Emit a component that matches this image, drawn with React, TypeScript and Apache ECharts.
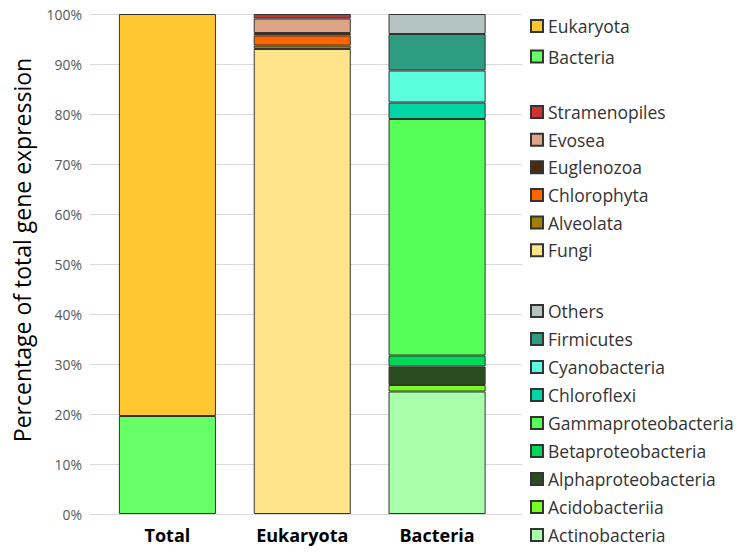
import React, { useEffect, useRef } from "react";
import * as echarts from "echarts";

const categories = ["Total", "Eukaryota", "Bacteria"];

const totalNames = ["Bacteria", "Eukaryota"];
const totalValues = [19.6, 80.4];

const eukNames = ["Fungi", "Alveolata", "Chlorophyta", "Euglenozoa", "Evosea", "Stramenopiles"];
const eukValues = [93.0, 0.7, 2.0, 0.5, 2.9, 0.9];

const bacNames = [
  "Actinobacteria",
  "Acidobacteriia",
  "Alphaproteobacteria",
  "Betaproteobacteria",
  "Gammaproteobacteria",
  "Chloroflexi",
  "Cyanobacteria",
  "Firmicutes",
  "Others",
];
const bacValues = [24.5, 1.3, 3.7, 2.2, 47.3, 3.3, 6.4, 7.3, 4.0];

const yTicks = [0, 10, 20, 30, 40, 50, 60, 70, 80, 90, 100];

const colors: Record<string, string> = {
  Eukaryota: "#FFC72F",
  Bacteria: "#66FF66",
  Stramenopiles: "#CC3333",
  Evosea: "#DDA486",
  Euglenozoa: "#4A2A12",
  Chlorophyta: "#FF6600",
  Alveolata: "#A08000",
  Fungi: "#FFE388",
  Others: "#B4C4C0",
  Firmicutes: "#2E9C80",
  Cyanobacteria: "#5BFFDF",
  Chloroflexi: "#00D5A6",
  Gammaproteobacteria: "#55FF55",
  Betaproteobacteria: "#00D858",
  Alphaproteobacteria: "#2B4C1E",
  Acidobacteriia: "#77FF22",
  Actinobacteria: "#AAFFAA",
};

const FONT = "'Open Sans', Lato, sans-serif";

export default function App() {
  const ref = useRef<HTMLDivElement>(null);
  useEffect(() => {
    if (!ref.current) return;
    const chart = echarts.init(ref.current, null, { renderer: "svg" });

    const mk = (name: string, value: number, catIndex: number) => {
      const data: any[] = categories.map(() => "-");
      data[catIndex] = value;
      return {
        name,
        type: "bar",
        stack: "s",
        xAxisIndex: 1,
        yAxisIndex: 1,
        barWidth: "72%",
        data,
        itemStyle: { color: colors[name], borderColor: "#333333", borderWidth: 1 },
      };
    };

    const series: any[] = [];
    totalNames.forEach((n, i) => series.push(mk(n, totalValues[i], 0)));
    eukNames.forEach((n, i) => series.push(mk(n, eukValues[i], 1)));
    bacNames.forEach((n, i) => series.push(mk(n, bacValues[i], 2)));

    const legendBase = {
      orient: "vertical",
      left: 530,
      padding: 0,
      icon: "rect",
      itemWidth: 12,
      itemHeight: 12,
      textStyle: { fontFamily: FONT, fontSize: 17.5, color: "#333", lineHeight: 20 },
      selectedMode: false,
    };

    chart.setOption({
      animation: false,
      grid: [
        { left: 90, right: 216, top: 14, bottom: 40 },
        { left: 100, right: 233.5, top: 14, bottom: 40 },
      ],
      xAxis: [
        {
          gridIndex: 0,
          type: "value",
          min: 0,
          max: 1,
          axisLine: { show: true, lineStyle: { color: "#D9D9D9", width: 1 } },
          axisTick: { show: false },
          axisLabel: { show: false },
          splitLine: { show: false },
        },
        {
          gridIndex: 1,
          type: "category",
          data: categories,
          axisLine: { show: false },
          axisTick: { show: false },
          axisLabel: {
            margin: 12,
            fontFamily: FONT,
            fontSize: 18,
            fontWeight: "bold",
            color: "#000",
          },
        },
      ],
      yAxis: [
        {
          gridIndex: 0,
          type: "value",
          min: yTicks[0],
          max: yTicks[yTicks.length - 1],
          interval: 10,
          axisLine: { show: false },
          axisTick: { show: false },
          axisLabel: {
            formatter: "{value}%",
            margin: 8,
            fontFamily: FONT,
            fontSize: 14,
            color: "#595959",
          },
          splitLine: { show: true, lineStyle: { color: "#D9D9D9", width: 1 } },
        },
        {
          gridIndex: 1,
          type: "value",
          min: 0,
          max: 100,
          show: false,
        },
      ],
      legend: [
        { ...legendBase, top: 16, itemGap: 10.5, data: totalNames.slice().reverse() },
        { ...legendBase, top: 102, itemGap: 7.65, data: eukNames.slice().reverse() },
        { ...legendBase, top: 301, itemGap: 8.0, data: bacNames.slice().reverse() },
      ],
      graphic: [
        {
          type: "text",
          x: 22,
          y: 250,
          rotation: Math.PI / 2,
          style: {
            text: "Percentage of total gene expression",
            fontFamily: FONT,
            fontSize: 23,
            fill: "#000",
            align: "center",
            verticalAlign: "middle",
          },
        },
      ],
      series,
    });
    return () => chart.dispose();
  }, []);
  return <div ref={ref} style={{ width: 738, height: 554, position: "absolute", left: 0, top: 0 }} />;
}
